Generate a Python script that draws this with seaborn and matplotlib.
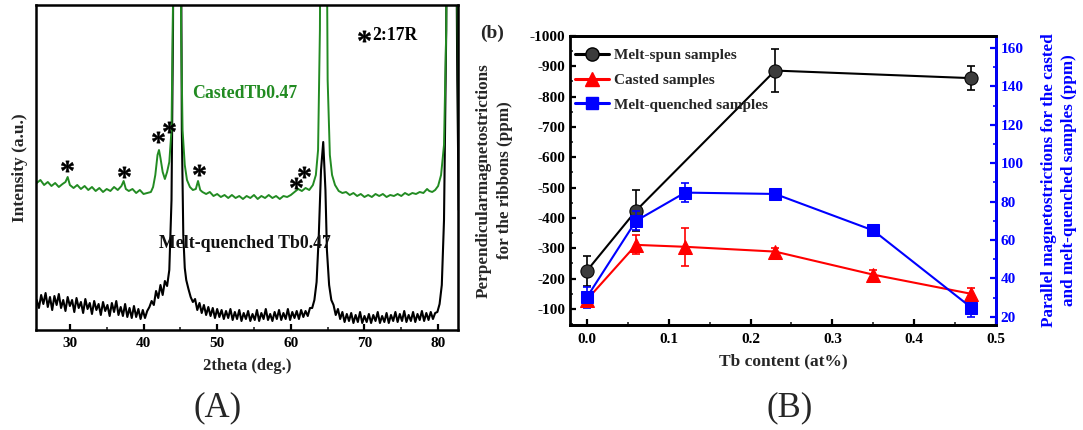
import matplotlib
matplotlib.use("Agg")
import matplotlib.pyplot as plt
from matplotlib.lines import Line2D
from matplotlib.ticker import MultipleLocator
import seaborn as sns

sns.set_theme(style="white")
plt.rcParams["font.family"] = ["Liberation Serif", "DejaVu Serif"]
plt.rcParams["font.weight"] = "bold"
plt.rcParams["axes.unicode_minus"] = False
plt.rcParams["mathtext.fontset"] = "custom"
plt.rcParams["mathtext.rm"] = "Liberation Serif:bold"
plt.rcParams["mathtext.it"] = "Liberation Serif:bold"
plt.rcParams["mathtext.bf"] = "Liberation Serif:bold"

# ---------------- (A) XRD patterns ----------------
mq_2theta = [25.5, 25.8, 26.1, 26.4, 26.7, 27.0, 27.3, 27.6, 27.9, 28.2, 28.5, 28.8, 29.1, 29.4, 29.7,
             30.0, 30.3, 30.6, 30.9, 31.2, 31.5, 31.8, 32.1, 32.4, 32.7, 33.0, 33.3, 33.6, 33.9, 34.2,
             34.5, 34.8, 35.1, 35.4, 35.7, 36.0, 36.3, 36.6, 36.9, 37.2, 37.5, 37.8, 38.1, 38.4, 38.7,
             39.0, 39.3, 39.6, 39.9, 40.2, 40.5, 40.8, 41.1, 41.4, 41.7, 42.0, 42.3, 42.6, 42.9, 43.2,
             43.5, 43.8, 44.0, 44.2, 44.6, 45.0, 45.2, 45.4, 45.6, 45.8, 46.1, 46.4, 46.7, 47.0, 47.3,
             47.6, 47.9, 48.2, 48.5, 48.8, 49.1, 49.4, 49.7, 50.0, 50.3, 50.6, 50.9, 51.2, 51.5, 51.8,
             52.1, 52.4, 52.7, 53.0, 53.3, 53.6, 53.9, 54.2, 54.5, 54.8, 55.1, 55.4, 55.7, 56.0, 56.3,
             56.6, 56.9, 57.2, 57.5, 57.8, 58.1, 58.4, 58.7, 59.0, 59.3, 59.6, 59.9, 60.2, 60.5, 60.8,
             61.1, 61.4, 61.7, 62.0, 62.3, 62.6, 62.9, 63.2, 63.5, 63.8, 64.1, 64.4, 64.7, 64.9, 65.2,
             65.5, 65.8, 66.1, 66.4, 66.7, 67.0, 67.3, 67.6, 67.9, 68.2, 68.5, 68.8, 69.1, 69.4, 69.7,
             70.0, 70.3, 70.6, 70.9, 71.2, 71.5, 71.8, 72.1, 72.4, 72.7, 73.0, 73.3, 73.6, 73.9, 74.2,
             74.5, 74.8, 75.1, 75.4, 75.7, 76.0, 76.3, 76.6, 76.9, 77.2, 77.5, 77.8, 78.1, 78.4, 78.7,
             79.0, 79.3, 79.6, 79.9, 80.2, 80.5, 80.8, 81.1, 81.4, 81.9, 82.3, 82.6, 82.8]
mq_intensity = [30, 22, 35, 26, 37, 23, 33, 20, 34, 25, 36, 22, 30, 19, 33,
                24, 30, 18, 32, 22, 28, 17, 31, 21, 27, 16, 29, 20, 26, 15,
                28, 19, 25, 14, 27, 18, 29, 15, 23, 14, 26, 13, 22, 12, 24,
                13, 21, 11, 20, 12, 19, 23, 29, 25, 39, 32, 45, 35, 49, 44,
                60, 130, 300, 700, 900, 600, 200, 95, 62, 50, 41, 33, 28, 31, 20,
                27, 17, 25, 15, 23, 14, 22, 12, 21, 13, 20, 11, 19, 12, 21,
                10, 18, 11, 20, 9, 17, 11, 19, 9, 16, 10, 20, 9, 17, 11,
                21, 10, 16, 9, 18, 11, 20, 10, 17, 11, 21, 10, 18, 12, 19,
                11, 20, 13, 19, 14, 22, 22, 30, 48, 95, 160, 188, 140, 80, 45,
                30, 25, 15, 21, 11, 18, 8, 16, 9, 17, 7, 15, 8, 18, 7,
                14, 8, 16, 7, 15, 9, 18, 7, 14, 8, 17, 7, 15, 9, 18,
                8, 16, 9, 19, 8, 15, 9, 18, 8, 16, 10, 19, 9, 17, 10,
                18, 11, 17, 18, 26, 45, 110, 300, 700, 900, 600, 250, 120]

cast_2theta = [25.5, 26.0, 26.5, 27.0, 27.5, 28.0, 28.5, 29.0, 29.4, 29.7, 30.0, 30.5, 31.0, 31.5, 32.0,
               32.5, 33.0, 33.5, 34.0, 34.5, 35.0, 35.5, 36.0, 36.5, 37.0, 37.3, 37.6, 38.0, 38.5, 39.0,
               39.5, 40.0, 40.5, 41.0, 41.3, 41.6, 41.9, 42.1, 42.3, 42.6, 42.9, 43.2, 43.5, 43.8, 44.0,
               44.3, 44.6, 44.9, 45.1, 45.3, 45.6, 45.9, 46.3, 46.7, 47.1, 47.4, 47.7, 48.0, 48.5, 49.0,
               49.5, 50.0, 50.5, 51.0, 51.5, 52.0, 52.5, 53.0, 53.5, 54.0, 54.5, 55.0, 55.5, 56.0, 56.5,
               57.0, 57.5, 58.0, 58.5, 59.0, 59.5, 60.0, 60.5, 61.0, 61.5, 62.0, 62.5, 63.0, 63.4, 63.7,
               63.95, 64.2, 64.5, 64.8, 65.0, 65.3, 65.6, 66.0, 66.5, 67.0, 67.5, 68.0, 68.5, 69.0, 69.5,
               70.0, 70.5, 71.0, 71.5, 72.0, 72.5, 73.0, 73.5, 74.0, 74.5, 75.0, 75.5, 76.0, 76.5, 77.0,
               77.5, 78.0, 78.5, 78.8, 79.2, 79.6, 80.0, 80.4, 80.8, 81.1, 81.4, 81.8, 82.2, 82.5, 82.8]
cast_intensity = [147, 150, 145, 148, 144, 147, 143, 146, 148, 153, 145, 142, 145, 141, 144,
                  140, 143, 139, 142, 138, 141, 139, 143, 140, 144, 149, 141, 139, 141, 137,
                  140, 136, 137, 138, 143, 155, 175, 180, 172, 158, 151, 158, 168, 200, 320,
                  700, 900, 600, 300, 200, 165, 150, 143, 140, 141, 149, 140, 138, 136, 138,
                  134, 136, 133, 135, 132, 135, 132, 134, 131, 134, 132, 135, 131, 134, 132,
                  135, 132, 134, 131, 134, 133, 135, 138, 141, 139, 142, 140, 145, 155, 180,
                  300, 700, 900, 500, 250, 175, 155, 145, 139, 137, 138, 135, 137, 134, 136,
                  133, 135, 133, 136, 134, 136, 133, 135, 134, 136, 134, 137, 135, 137, 136,
                  138, 137, 141, 139, 138, 140, 144, 155, 185, 300, 700, 900, 700, 400, 200]

# 2:17R reflections marked with asterisks
star_2theta = [29.55, 37.3, 41.9, 43.45, 47.5, 60.7, 61.8]
star_height = [164, 158, 193, 203, 160, 147, 158]

# ---------------- (B) magnetostriction ----------------
tb_spun = [0.0, 0.06, 0.23, 0.47]
lam_spun = [-226, -424, -886, -861]
err_spun = [50, 68, 70, 40]

tb_cast = [0.0, 0.06, 0.12, 0.23, 0.35, 0.47]
lam_cast = [29, 57.5, 56.5, 54, 42, 32]
err_cast = [3, 5, 10, 2, 2.5, 3]

tb_mq = [0.0, 0.06, 0.12, 0.23, 0.35, 0.47]
lam_mq = [30.3, 70, 84.7, 84, 65, 24.8]
err_mq = [5.5, 5, 5, 1.5, 3, 5]

legend_labels = ["Melt-spun samples", "Casted samples", "Melt-quenched samples"]

GREEN = "#228b22"
RED = "#ff0000"
BLUE = "#0000ff"
STAR = r"$\mathrm{*}$"

W, H = 1083, 430
fig = plt.figure(figsize=(W / 100, H / 100), dpi=100)


def px_axes(x0, y0, x1, y1):
    return fig.add_axes([x0 / W, 1 - y1 / H, (x1 - x0) / W, (y1 - y0) / H])


# ---- panel A ----
axA = px_axes(36, 5, 458, 330)
sns.lineplot(x=mq_2theta, y=mq_intensity, ax=axA, color="black", lw=1.5,
             sort=False, estimator=None)
sns.lineplot(x=cast_2theta, y=cast_intensity, ax=axA, color=GREEN, lw=1.4,
             sort=False, estimator=None)
axA.set_xlim(25.4, 82.7)
axA.set_ylim(0, 325)
axA.set_yticks([])
axA.xaxis.set_major_locator(MultipleLocator(10))
axA.xaxis.set_minor_locator(MultipleLocator(5))
axA.tick_params(axis="x", which="major", direction="in", length=4, width=1.6,
                labelsize=11, pad=5, bottom=True, colors="black")
axA.tick_params(axis="x", which="minor", direction="in", length=2.5, width=1.2, bottom=True)
for lbl in axA.get_xticklabels():
    lbl.set_fontweight("bold")
for s in axA.spines.values():
    s.set_linewidth(1.8)
    s.set_color("black")
axA.set_xlabel("2theta (deg.)", fontsize=12, fontweight="bold", labelpad=6)
axA.set_ylabel("Intensity (a.u.)", fontsize=12.5, fontweight="bold", labelpad=6)

axA.plot(star_2theta, star_height, ls="none", marker=STAR, ms=9, color="black",
         markeredgewidth=0.3)
axA.text(53.8, 237, "CastedTb0.47", color=GREEN, fontsize=12.8, fontweight="bold",
         ha="center", va="center")
axA.text(53.8, 87, "Melt-quenched Tb0.47", color="#111111", fontsize=12.8,
         fontweight="bold", ha="center", va="center")
axA.plot([69.9], [294], ls="none", marker=STAR, ms=9, color="black", markeredgewidth=0.3)
axA.text(71.1, 295, "2:17R", color="black", fontsize=12.8, fontweight="bold",
         ha="left", va="center")

# ---- panel B ----
axB = px_axes(570, 36, 996, 325)
axB2 = axB.twinx()

sns.lineplot(x=tb_spun, y=lam_spun, ax=axB, color="black", lw=1.5, marker="o",
             markersize=9.5, markerfacecolor="#3c3c3c", markeredgecolor="black",
             sort=False, estimator=None, zorder=3)
axB.errorbar(tb_spun, lam_spun, yerr=err_spun, fmt="none", ecolor="black",
             elinewidth=1.2, capsize=3, capthick=1.2, zorder=2)

sns.lineplot(x=tb_cast, y=lam_cast, ax=axB2, color=RED, lw=1.5, marker="^",
             markersize=9.5, markerfacecolor=RED, markeredgecolor=RED,
             sort=False, estimator=None, zorder=3)
axB2.errorbar(tb_cast, lam_cast, yerr=err_cast, fmt="none", ecolor=RED,
              elinewidth=1.2, capsize=3, capthick=1.2, zorder=2)
sns.lineplot(x=tb_mq, y=lam_mq, ax=axB2, color=BLUE, lw=1.5, marker="s",
             markersize=8, markerfacecolor=BLUE, markeredgecolor=BLUE,
             sort=False, estimator=None, zorder=4)
axB2.errorbar(tb_mq, lam_mq, yerr=err_mq, fmt="none", ecolor=BLUE,
              elinewidth=1.2, capsize=3, capthick=1.2, zorder=2)

axB.set_xlim(-0.0207, 0.5)
axB.set_ylim(-47, -1000)
axB2.set_ylim(15.8, 166.2)
axB.set_yticks(list(range(-1000, -99, 100)))
axB.xaxis.set_major_locator(MultipleLocator(0.1))
axB.xaxis.set_minor_locator(MultipleLocator(0.05))
axB.yaxis.set_minor_locator(MultipleLocator(50))
axB2.set_yticks(list(range(20, 161, 20)))
axB2.yaxis.set_minor_locator(MultipleLocator(10))

axB.tick_params(axis="both", which="major", direction="in", length=4, width=1.6,
                labelsize=11, left=True, bottom=True, colors="black")
axB.tick_params(axis="x", which="major", pad=6)
axB.tick_params(axis="both", which="minor", direction="in", length=2.5, width=1.2,
                left=True, bottom=True)
axB2.tick_params(axis="y", which="major", direction="in", length=4, width=1.6,
                 labelsize=11, right=True, colors=BLUE)
axB2.tick_params(axis="y", which="minor", direction="in", length=2.5, width=1.2,
                 right=True, colors=BLUE)
for lbl in axB.get_xticklabels() + axB.get_yticklabels() + axB2.get_yticklabels():
    lbl.set_fontweight("bold")
for s in axB.spines.values():
    s.set_linewidth(2.0)
    s.set_color("black")
for name, s in axB2.spines.items():
    s.set_linewidth(2.0)
    s.set_color(BLUE if name == "right" else "black")
axB2.spines["left"].set_visible(False)

axB.set_xlabel("Tb content (at%)", fontsize=12.5, fontweight="bold", labelpad=5)
axB.set_ylabel("Perpendicularmagnetostrictions\nfor the ribbons (ppm)", fontsize=12.3,
               fontweight="bold", linespacing=1.4, labelpad=12)
axB2.set_ylabel("Parallel magnetostrictions for the casted\nand melt-quenched samples (ppm)",
                fontsize=12.3, fontweight="bold", color=BLUE, linespacing=1.4, labelpad=12)

handles = [
    Line2D([], [], color="black", lw=2.2, marker="o", ms=9.5, mfc="#3c3c3c", mec="black"),
    Line2D([], [], color=RED, lw=2.2, marker="^", ms=9.5, mfc=RED, mec=RED),
    Line2D([], [], color=BLUE, lw=2.2, marker="s", ms=8, mfc=BLUE, mec=BLUE),
]
axB2.legend(handles, legend_labels, loc="upper left", bbox_to_anchor=(0.0, 0.975),
            frameon=False, handlelength=2.2, handletextpad=0.35,
            labelspacing=0.72, borderpad=0.2, borderaxespad=0.15,
            prop={"weight": "bold", "size": 11})

fig.text(492 / W, 1 - 33 / H, "(b)", fontsize=14, fontweight="bold", ha="center", va="center")

# panel captions
fig.text(218 / W, 1 - 408 / H, "(A)", fontsize=25, fontweight="normal", ha="center",
         va="center")
fig.text(790 / W, 1 - 408 / H, "(B)", fontsize=25, fontweight="normal", ha="center",
         va="center")

fig.savefig("out.png", dpi=100, facecolor="white")
